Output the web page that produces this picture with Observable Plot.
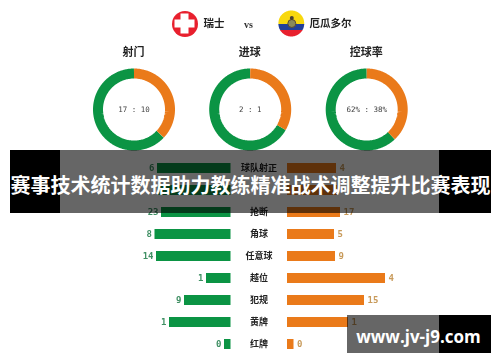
<!DOCTYPE html>
<html><head><meta charset="utf-8">
<script src="https://cdn.jsdelivr.net/npm/d3@7"></script>
<script src="https://cdn.jsdelivr.net/npm/@observablehq/plot@0.6"></script>
<style>
html,body{margin:0;padding:0;background:#fff;overflow:hidden}
svg{display:block}
.soft{filter:blur(.45px)}
</style></head><body><div id="chart"></div>
<script>
// ---------- data ----------
const teams = ["瑞士", "厄瓜多尔"];
const donutTitles = ["射门", "进球", "控球率"];
const donutLabels = ["17 : 10", "2 : 1", "62% : 38%"];
const donutHome = [17, 2, 62];
const donutAway = [10, 1, 38];
const rowNames = ["球队射正", "", "抢断", "角球", "任意球", "越位", "犯规", "黄牌", "红牌"];
const homeLabels = ["6", "", "23", "8", "14", "1", "9", "1", "0"];
const awayLabels = ["4", "", "17", "5", "9", "4", "15", "1", "0"];
const homeBars = [73.5, 73, 69.5, 76, 74.5, 24.5, 46.5, 61.5, 6.5];
const awayBars = [49, 50, 53, 47, 48, 98, 77, 61, 6.5];
const banner = "赛事技术统计数据助力教练精准战术调整提升比赛表现";
const watermark = "www.jv-j9.com";

// ---------- styling ----------
const GREEN = "#0b9444", ORANGE = "#ea7a1a";
const CJK = "'Noto Sans CJK SC'";
const MONO = "'DejaVu Sans Mono'";
const soft = {className: "soft"};

// ---------- layout ----------
const donutX = [133.5, 249.7, 366.2], donutY = 109, donutR = 36;
const rowY = rowNames.map((_, i) => 168 + 22 * i);
const homeEdge = 230.5, awayEdge = 287;

function arc(cx, from, to) {
  const n = Math.max(2, Math.ceil((to - from) * 240));
  return d3.range(n + 1).map(i => {
    const a = (from + (to - from) * i / n) * 2 * Math.PI;
    return {x: cx + donutR * Math.sin(a), y: donutY - donutR * Math.cos(a)};
  });
}

// Ecuador's three stripes, cut to the round flag
const flag = {x: 291.3, y: 23.5, r: 13};
function stripe(top, bottom) {
  return d3.range(0, 53).map(i => {
    const x = flag.x - flag.r + i * flag.r / 26;
    const h = Math.sqrt(Math.max(0, flag.r ** 2 - (x - flag.x) ** 2));
    const y1 = Math.max(top, flag.y - h), y2 = Math.min(bottom, flag.y + h);
    return {x, y1, y2: Math.max(y1, y2)};
  });
}

const rows = rowNames.map((name, i) => ({
  name, y: rowY[i], home: homeBars[i], away: awayBars[i],
  homeLabel: homeLabels[i], awayLabel: awayLabels[i]
}));

const marks = [];

// header
marks.push(
  Plot.dot([0], {x: () => 184.5, y: () => 23.5, r: 13, fill: "#e8202e", ...soft}),
  Plot.rect([0], {x1: () => 174.5, x2: () => 194.5, y1: () => 19.5, y2: () => 27.5, fill: "#fff", ...soft}),
  Plot.rect([0], {x1: () => 180.5, x2: () => 188.5, y1: () => 13.5, y2: () => 33.5, fill: "#fff", ...soft}),
  Plot.areaY(stripe(10, 24), {x: "x", y1: "y1", y2: "y2", fill: "#f8d80e", ...soft}),
  Plot.areaY(stripe(24, 30), {x: "x", y1: "y1", y2: "y2", fill: "#23409a", ...soft}),
  Plot.areaY(stripe(30, 37), {x: "x", y1: "y1", y2: "y2", fill: "#e8202e", ...soft}),
  Plot.dot([0], {x: () => 291.3, y: () => 23, r: 4, fill: "#8b8a5a", stroke: "#5a4a30", strokeWidth: 1, ...soft}),
  Plot.dot([0], {x: () => 291.3, y: () => 17.5, r: 2, fill: "#4a4030", ...soft}),
  Plot.text([teams[0]], {x: () => 213.5, y: () => 23, text: d => d, fontFamily: CJK, fontWeight: 700, fontSize: 10.5, fill: "#222", ...soft}),
  Plot.text([teams[1]], {x: () => 330, y: () => 23, text: d => d, fontFamily: CJK, fontWeight: 700, fontSize: 10.5, fill: "#222", ...soft}),
  Plot.text(["vs"], {x: () => 248, y: () => 24, text: d => d, fontFamily: "'Liberation Serif'", fontWeight: 700, fontSize: 10, fill: "#333", ...soft})
);

// donuts
donutTitles.forEach((title, i) => {
  const share = donutAway[i] / (donutHome[i] + donutAway[i]);
  marks.push(
    Plot.text([title], {x: () => donutX[i] - 0.5, y: () => 52, text: d => d, fontFamily: CJK, fontWeight: 700, fontSize: 11, fill: "#222", ...soft}),
    Plot.line(arc(donutX[i], share, 1), {x: "x", y: "y", stroke: GREEN, strokeWidth: 10, strokeLinecap: "butt", ...soft}),
    Plot.line(arc(donutX[i], 0, share), {x: "x", y: "y", stroke: ORANGE, strokeWidth: 10, strokeLinecap: "butt", ...soft}),
    Plot.text([donutLabels[i]], {x: () => donutX[i], y: () => 109, text: d => d, fontFamily: MONO, fontSize: 7.5, fill: "#444", ...soft})
  );
});

// comparison bars
marks.push(
  Plot.rect(rows, {x1: d => homeEdge - d.home, x2: () => homeEdge, y1: d => d.y - 5, y2: d => d.y + 5, fill: GREEN, ...soft}),
  Plot.rect(rows, {x1: () => awayEdge, x2: d => awayEdge + d.away, y1: d => d.y - 5, y2: d => d.y + 5, fill: ORANGE, ...soft}),
  Plot.text(rows, {x: () => 258.5, y: "y", text: "name", fontFamily: CJK, fontWeight: 700, fontSize: 9, fill: "#222", ...soft}),
  Plot.text(rows, {x: d => homeEdge - d.home - 3, y: "y", text: "homeLabel", textAnchor: "end", fontFamily: MONO, fontWeight: 700, fontSize: 9, fill: "#3f8f63", ...soft}),
  Plot.text(rows, {x: d => awayEdge + d.away + 3, y: "y", text: "awayLabel", textAnchor: "start", fontFamily: MONO, fontWeight: 700, fontSize: 9, fill: "#c89a5a", ...soft})
);

// overlays
marks.push(
  Plot.rect([0], {x1: () => 60, x2: () => 439, y1: () => 150, y2: () => 213, fill: "#000", fillOpacity: 0.6}),
  Plot.rect([0], {x1: () => 10, x2: () => 60, y1: () => 150, y2: () => 213, fill: "#000"}),
  Plot.rect([0], {x1: () => 439, x2: () => 491, y1: () => 150, y2: () => 213, fill: "#000"}),
  Plot.text([banner], {x: () => 250, y: () => 186, text: d => d, fontFamily: CJK, fontWeight: 700, fontSize: 20, fill: "#fff"}),
  Plot.rect([0], {x1: () => 347, x2: () => 439, y1: () => 315, y2: () => 353, fill: "#000", fillOpacity: 0.6}),
  Plot.rect([0], {x1: () => 439, x2: () => 491, y1: () => 315, y2: () => 353, fill: "#000"}),
  Plot.text([watermark], {x: () => 418, y: () => 337, text: d => d, fontFamily: "'Open Sans'", fontWeight: 700, fontSize: 17, fill: "#fff"})
);

const chart = Plot.plot({
  width: 500, height: 362,
  marginTop: 0, marginRight: 0, marginBottom: 0, marginLeft: 0,
  x: {axis: null, type: "linear", domain: [0, 500], range: [0, 500]},
  y: {axis: null, type: "linear", domain: [0, 362], range: [0, 362]},
  style: {background: "#fff"},
  marks
});
document.getElementById("chart").appendChild(chart);
</script></body></html>
